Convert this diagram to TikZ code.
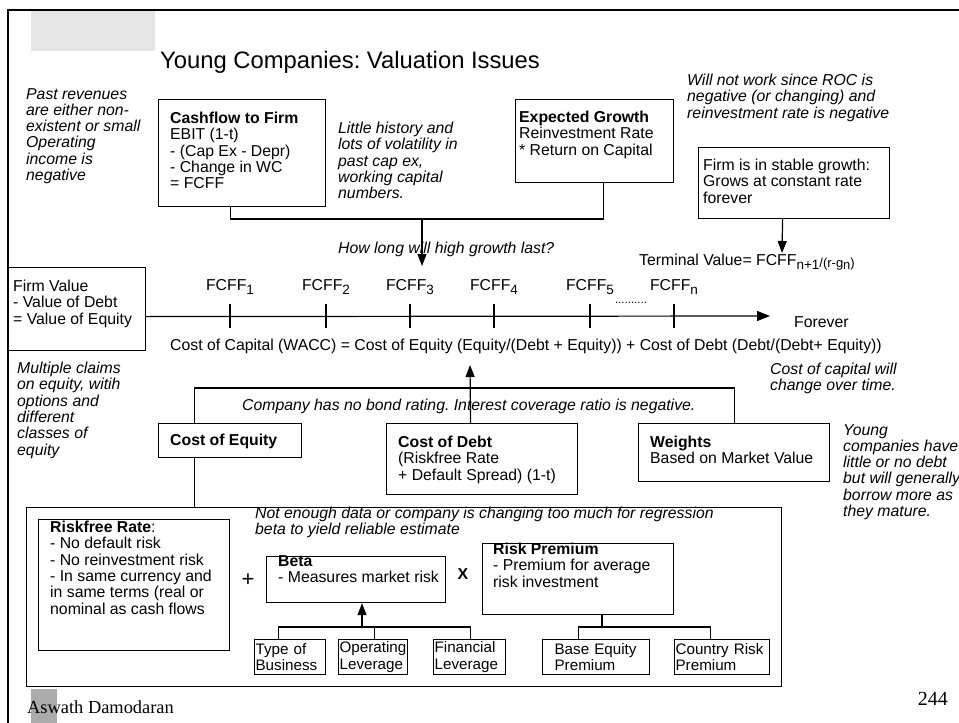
\documentclass[tikz,border=0pt]{standalone}
\usepackage{fontspec}
\setmainfont{Liberation Sans}
\newfontfamily\footfont{Liberation Serif}
\usetikzlibrary{arrows.meta}
\frenchspacing
\newcommand{\slidefont}{\fontsize{15.8}{16.3}\selectfont}
\newcommand{\leaffont}{\fontsize{15.2}{16.3}\selectfont}
\newcommand{\lowidx}[1]{\raisebox{-4pt}{\fontsize{13.5}{14}\selectfont #1}}
\tikzset{
  box/.style 2 args={rectangle, draw, line width=1.2pt, inner sep=0pt,
                     anchor=north west, minimum width=#1pt, minimum height=#2pt},
  leaf/.style 2 args={rectangle, draw, line width=1.2pt, anchor=north west,
                      inner xsep=#2pt, inner ysep=0pt, minimum height=35pt,
                      text width=#1pt, align=left, font=\leaffont},
  txt/.style={align=left, anchor=north west, inner sep=0pt, font=\slidefont},
  note/.style={txt, font=\slidefont\itshape},
  link/.style={line width=1.2pt},
  arr/.style={link, -{Triangle[length=12pt, width=9pt]}}
}

\begin{document}
\begin{tikzpicture}[x=1pt, y=-1pt]
  \useasboundingbox (0,0) rectangle (959,723);
  \fill[white] (0,0) rectangle (959,723);
  % frame and header
  \draw[line width=2pt] (959,10) -- (8,10) -- (8,723);
  \fill[black!10] (31,11) rectangle (155,51);
  \node[anchor=base west, inner sep=0pt, font=\fontsize{23.8}{26}\selectfont] (title) at (160,68) {Young Companies: Valuation Issues};

  % cash flows and growth
  \node[note] (pastnote) at (26,88) {Past revenues\\are either non-\\existent or small\\Operating\\income is\\negative};
  \node[box={167}{107}] (cf) at (158,99) {};
  \node[txt] (cftxt) at (170,112) {\textbf{Cashflow to Firm}\\EBIT (1-t)\\- (Cap Ex - Depr)\\- Change in WC\\= FCFF};
  \node[note] (histnote) at (338,122) {Little history and\\lots of volatility in\\past cap ex,\\working capital\\numbers.};
  \node[box={158}{83}] (eg) at (515,99) {};
  \node[txt] (egtxt) at (519,111) {\textbf{Expected Growth}\\Reinvestment Rate\\* Return on Capital};
  \node[note] (rocnote) at (687,74) {Will not work since ROC is\\negative (or changing) and\\reinvestment rate is negative};
  \node[box={191}{71}] (sg) at (698,147) {};
  \node[txt] (sgtxt) at (703,159) {Firm is in stable growth:\\Grows at constant rate\\forever};

  \coordinate (gj) at (422,219);
  \coordinate (gtip) at (422,266);
  \draw[link] ([xshift=-11.5pt]cf.south) |- (gj) -| ([xshift=9pt]eg.south);
  \draw[arr] (gj) -- (gtip);
  \node[note, anchor=west] (howlong) at (338,249) {How long will high growth last?};

  % timeline
  \node[box={137}{83}] (fv) at (8,267) {};
  \node[txt] (fvtxt) at (13,280) {Firm Value\\- Value of Debt\\= Value of Equity};
  \coordinate (tend) at (770,316);
  \draw[link, -{Triangle[length=13pt, width=10pt]}] ([yshift=-7.5pt]fv.east) -- (tend);
  \foreach \x/\s [count=\i] in {230/1, 326/2, 410/3, 494/4, 590/5, 674/n}{
    \draw[link] (\x,304) -- (\x,328);
    \node[anchor=base, inner sep=0pt, font=\slidefont] (fc\i) at (\x,290) {FCFF\lowidx{\s}};
  }
  \node[anchor=base, inner sep=0pt, font=\fontsize{11.5}{12}\selectfont] (dots) at (631,303) {..........};
  \node[txt, anchor=west] (forever) at (794,322) {Forever};
  \node[txt, anchor=west] (tv) at (639,262) {Terminal Value= FCFF\lowidx{n+1}\raisebox{-2pt}{\fontsize{13}{13}\selectfont/(r-g\raisebox{-2.5pt}{n})}};
  \coordinate (sgtip) at (782,253);
  \draw[arr] ([xshift=-11.5pt]sg.south) -- (sgtip);

  % cost of capital
  \node[txt, anchor=west] (wacc) at (170,346) {Cost of Capital (WACC) = Cost of Equity (Equity/(Debt + Equity)) + Cost of Debt (Debt/(Debt+ Equity))};
  \node[note] (claimnote) at (17,362) {Multiple claims\\on equity, witih\\options and\\different\\classes of\\equity};
  \node[note] (ccnote) at (770,363) {Cost of capital will\\change over time.};
  \node[box={143}{34}] (ce) at (158,423) {};
  \node[txt, anchor=west, font=\slidefont\bfseries] (cetxt) at (170,441) {Cost of Equity};
  \node[box={191}{71}] (cd) at (386,423) {};
  \node[txt] (cdtxt) at (398,436) {\textbf{Cost of Debt}\\(Riskfree Rate\\+ Default Spread) (1-t)};
  \node[box={191}{58}] (wt) at (638,423) {};
  \node[txt] (wttxt) at (650,436) {\textbf{Weights}\\Based on Market Value};
  \node[note] (youngnote) at (843,424) {Young\\companies have\\little or no debt\\but will generally\\borrow more as\\they mature.};
  \draw[link] ([xshift=-35.5pt]ce.north) -- ++(0,-35) -| (wt.north);
  \node[note, anchor=west] (ratingnote) at (242,406) {Company has no bond rating. Interest coverage ratio is negative.};
  \coordinate (cdtip) at (470,365);
  \draw[arr] ([xshift=-11.5pt]cd.north) -- (cdtip);

  % cost of equity build-up
  \node[box={755}{179}] (eqbox) at (26,507) {};
  \draw[link] ([xshift=-35.5pt]ce.south) -- ++(0,50);
  \node[note] (datanote) at (255,507) {Not enough data or company is changing too much for regression\\beta to yield reliable estimate};
  \node[box={191}{131}] (rf) at (38,519) {};
  \node[txt] (rftxt) at (50,521) {\textbf{Riskfree Rate}:\\- No default risk\\- No reinvestment risk\\- In same currency and\\in same terms (real or\\nominal as cash flows};
  \node[inner sep=0pt, font=\fontsize{22}{22}\selectfont] (plus) at (248,580) {+};
  \node[box={179}{46}] (beta) at (266,556) {};
  \node[txt] (betatxt) at (278,555) {\textbf{Beta}\\- Measures market risk};
  \node[inner sep=0pt, font=\slidefont\bfseries] (times) at (463,574) {X};
  \node[box={191}{71}] (rp) at (482,543) {};
  \node[txt] (rptxt) at (493,543) {\textbf{Risk Premium}\\- Premium for average\\risk investment};

  \node[leaf={69}{1}] (tb) at (254,639) {Type of\\Business};
  \node[leaf={67}{1}] (ol) at (338,639) {Operating\\Leverage};
  \node[leaf={70}{1}] (fl) at (433,639) {Financial\\Leverage};
  \node[leaf={83}{12}] (be) at (542,639) {Base Equity\\Premium};
  \node[leaf={93}{1}] (crp) at (674,639) {Country Risk\\Premium};

  \coordinate (bj) at (362,627);
  \draw[link] ([xshift=-11.5pt]tb.north) |- (bj) -| ([xshift=1pt]fl.north);
  \draw[link] ([xshift=1.5pt]ol.north) -- ++(0,-12);
  \draw[arr] (bj) -- (bj |- beta.south);
  \coordinate (rj) at (602,627);
  \draw[link] ([xshift=-17.5pt]be.north) |- (rj) -| ([xshift=-11.5pt]crp.north);
  \draw[link] (rj) -- (rj |- rp.south);

  % footer
  \fill[black!33] (31,689) rectangle (57,723);
  \node[anchor=base west, inner sep=0pt, font=\footfont\fontsize{18.4}{20}\selectfont] (footer) at (27,713) {Aswath Damodaran};
  \node[anchor=base east, inner sep=0pt, font=\footfont\fontsize{20}{22}\selectfont] (pageno) at (948,705) {244};
\end{tikzpicture}
\end{document}
